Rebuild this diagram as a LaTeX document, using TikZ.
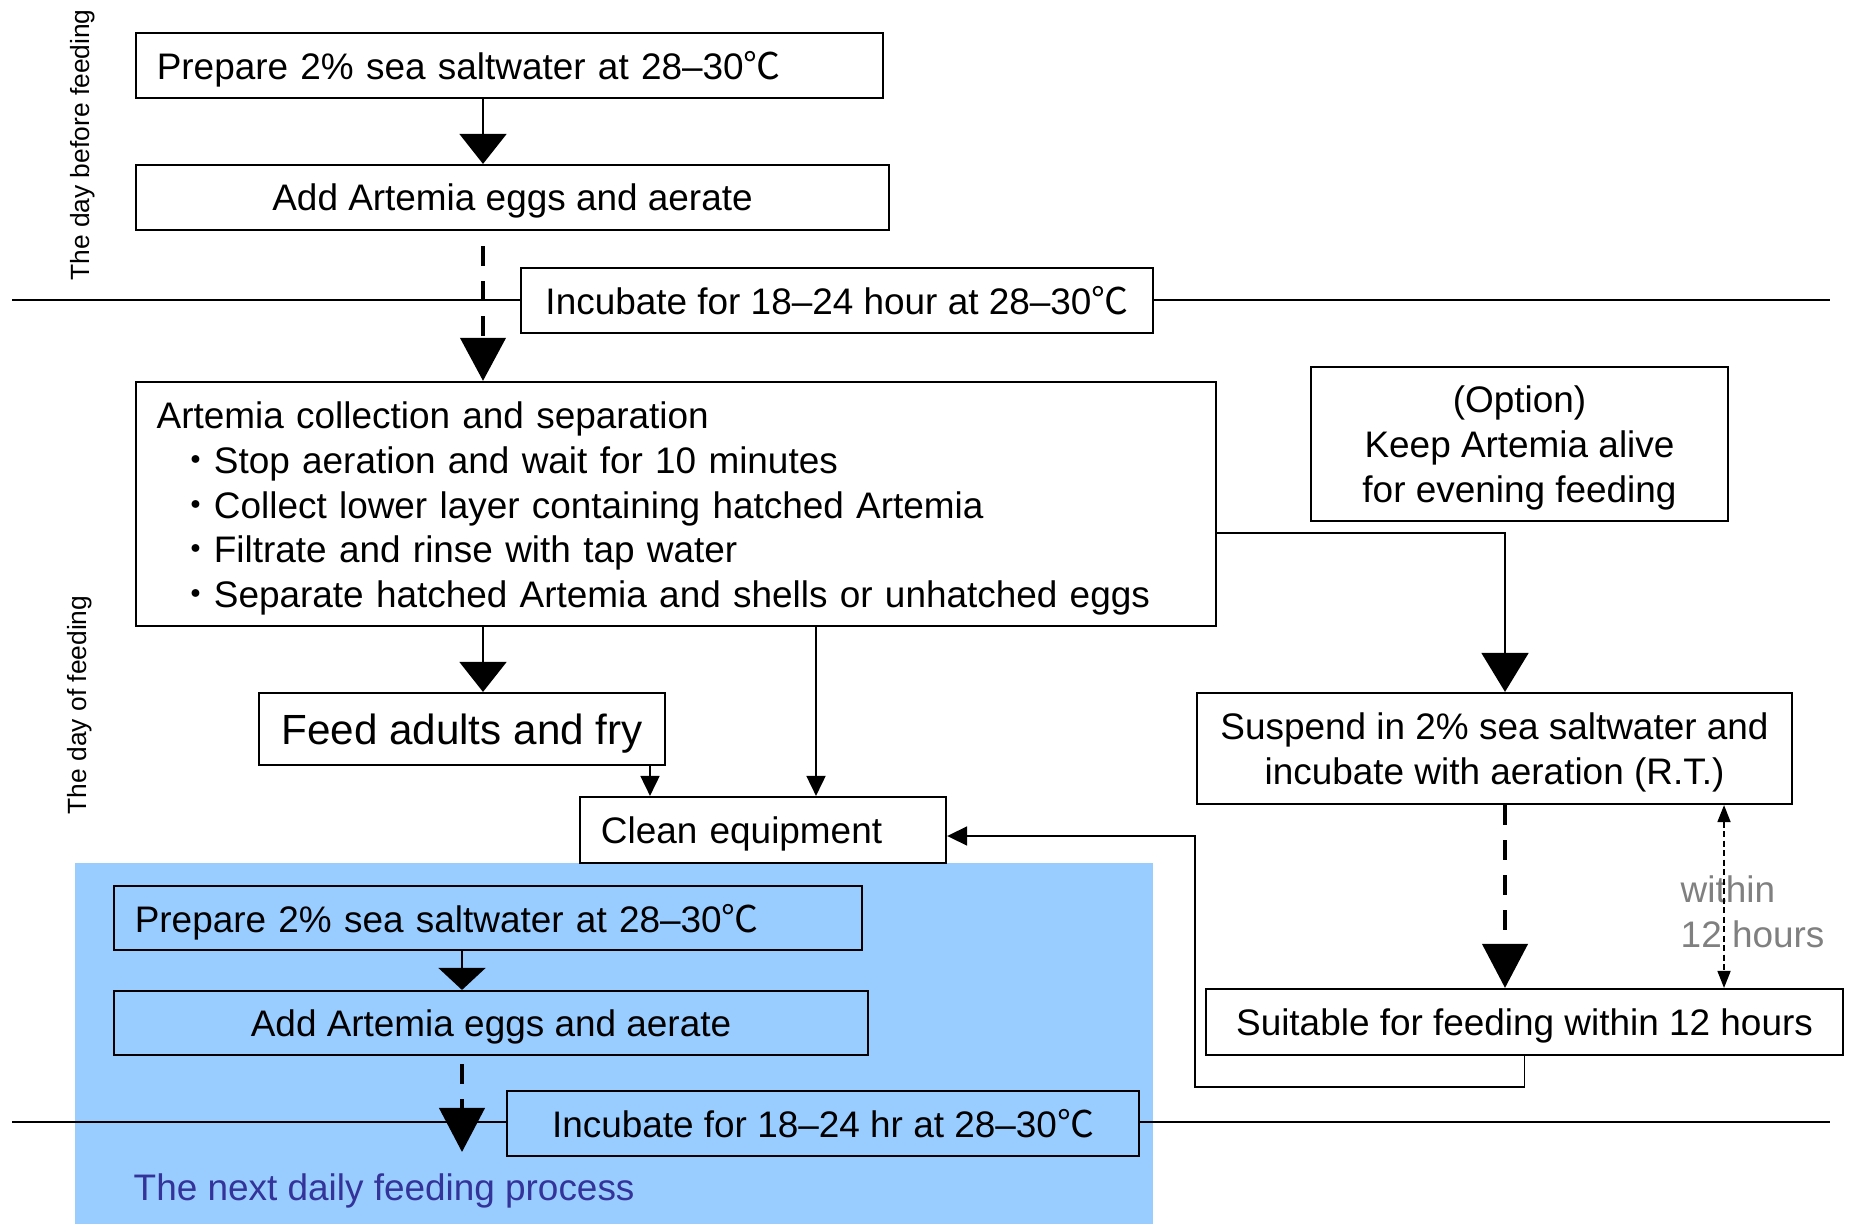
\documentclass[tikz,border=0pt]{standalone}
\usepackage{fontspec}
\setmainfont{Liberation Sans}
\newfontfamily\cjk{Noto Sans CJK SC}
\usepackage{tikz}
\usetikzlibrary{arrows.meta}
\definecolor{nextblue}{RGB}{153,204,255}
\definecolor{nexttext}{RGB}{51,51,153}
\newcommand{\degC}{{\cjk ℃}}
\newcommand{\bul}{\hspace*{0.55em}{\cjk ・}}

\begin{document}
\begin{tikzpicture}[x=0.01cm, y=-0.01cm,
  every node/.style={font=\fontsize{10.5}{12.7}\selectfont},
  box/.style={draw, line width=0.6pt, fill=white, inner sep=0pt, text depth=0pt, align=center},
  lbox/.style={draw, line width=0.6pt, fill=white, inner xsep=0.21cm, inner ysep=0pt, text depth=0pt, align=left},
  daylabel/.style={rotate=90, inner sep=0pt, font=\fontsize{7.5}{9}\selectfont},
  flow/.style={line width=0.5pt, -{Triangle[length=#1, width=0.47cm]}},
  flow/.default=0.3cm,
  dflow/.style={line width=1.2pt, dash pattern=on 0.2cm off 0.15cm, -{Triangle[length=#1, width=0.45cm]}},
  dflow/.default=0.44cm,
  thinflow/.style={line width=0.5pt, -{Triangle[length=0.2cm, width=0.19cm]}},
  within12/.style={line width=0.5pt, dash pattern=on 0.06cm off 0.035cm,
    {Triangle[length=0.17cm, width=0.13cm]}-{Triangle[length=0.17cm, width=0.13cm]}}]

\useasboundingbox (0,0) rectangle (1849,1225);

% Next day background
\fill[nextblue] (75,863) rectangle (1153,1224);

% Day dividers
\draw[line width=0.4pt] (12,300) -- (1830,300);
\draw[line width=0.4pt] (12,1122) -- (1830,1122);

% Columns and rows for connectors
\coordinate (colA) at (483,0);
\coordinate (colB) at (462,0);
\coordinate (colC) at (650,0);
\coordinate (colD) at (816,0);
\coordinate (colR) at (1505,0);
\coordinate (colW) at (1724,0);
\coordinate (rowR) at (0,533);
\coordinate (rowE) at (0,836);
\coordinate (loopB) at (1195,1087);
\coordinate (tipB) at (462,1152);

% Side labels
\node[daylabel] (dayBefore) at (83,145) {The day before feeding};
\node[daylabel] (dayOf) at (80,705) {The day of feeding};

% The day before feeding
\node[lbox, text width=7.05cm, minimum height=0.65cm] (prepA) at (509.5,65.5) {Prepare 2\% sea saltwater at 28–30\degC};
\node[box, minimum width=7.53cm, minimum height=0.65cm] (addA) at (512.5,197.5) {Add Artemia eggs and aerate};
\node[box, minimum width=6.32cm, minimum height=0.65cm] (incA) at (837,300.5) {Incubate for 18–24 hour at 28–30\degC};

% The day of feeding
\node[lbox, text depth=50.3pt, text width=10.38cm, minimum height=2.44cm] (collect) at (676,504) {Artemia collection and separation\\
  \bul Stop aeration and wait for 10 minutes\\
  \bul Collect lower layer containing hatched Artemia\\
  \bul Filtrate and rinse with tap water\\
  \bul Separate hatched Artemia and shells or unhatched eggs};
\node[box, minimum width=4.17cm, minimum height=1.54cm] (option) at (1519.5,444) {(Option)\\Keep Artemia alive\\for evening feeding};
\node[box, minimum width=4.06cm, minimum height=0.72cm, font=\fontsize{12}{14}\selectfont] (feed) at (462,729) {Feed adults and fry};
\node[box, minimum width=5.95cm, minimum height=1.11cm] (susp) at (1494.5,748.5) {Suspend in 2\% sea saltwater and\\incubate with aeration (R.T.)};
\node[lbox, text width=3.24cm, minimum height=0.66cm] (clean) at (763,830) {Clean equipment};
\node[box, minimum width=6.37cm, minimum height=0.66cm] (suit) at (1524.5,1022) {Suitable for feeding within 12 hours};
\node[anchor=west, align=left, inner sep=0pt, text=gray] (within) at (1680,912) {within\\12 hours};

% The next daily feeding process
\node[lbox, fill=nextblue, text width=7.06cm, minimum height=0.64cm] (prepB) at (488,918) {Prepare 2\% sea saltwater at 28–30\degC};
\node[box, fill=nextblue, minimum width=7.54cm, minimum height=0.64cm] (addB) at (491,1023) {Add Artemia eggs and aerate};
\node[box, fill=nextblue, minimum width=6.32cm, minimum height=0.65cm] (incB) at (823,1123.5) {Incubate for 18–24 hr at 28–30\degC};
\node[anchor=west, inner sep=0pt, text=nexttext] (nextLabel) at (133,1191) {The next daily feeding process};

% Connectors
\draw[flow] (prepA.south -| colA) -- (addA.north -| colA);
\draw[dflow=0.43cm, dash phase=0.2cm] (addA.south -| colA) -- (collect.north -| colA);
\draw[flow] (collect.south -| colA) -- (feed.north -| colA);
\draw[flow=0.39cm] (collect.east |- rowR) -| (susp.north -| colR);
\draw[thinflow] (feed.south -| colC) -- (clean.north -| colC);
\draw[thinflow] (collect.south -| colD) -- (clean.north -| colD);
\draw[dflow] (susp.south -| colR) -- (suit.north -| colR);
\draw[within12] (susp.south -| colW) -- (suit.north -| colW);
\draw[thinflow] (suit.south) |- (loopB) |- (clean.east |- rowE);
\draw[flow=0.22cm] (prepB.south -| colB) -- (addB.north -| colB);
\draw[dflow, dash phase=0.27cm] (addB.south -| colB) -- (tipB);

\end{tikzpicture}
\end{document}
